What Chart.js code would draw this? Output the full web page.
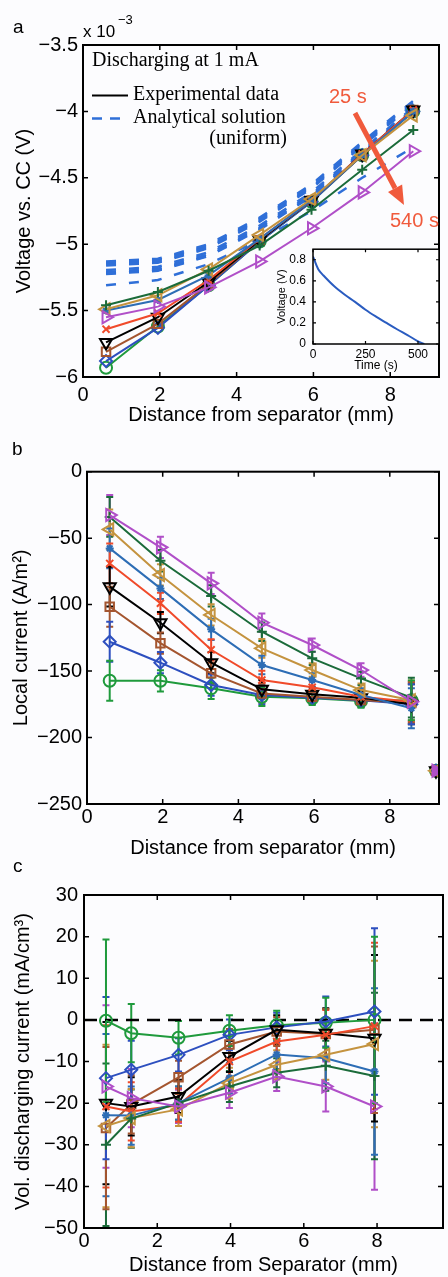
<!DOCTYPE html>
<html><head><meta charset="utf-8">
<script src="https://cdn.jsdelivr.net/npm/chart.js@4.4.1/dist/chart.umd.min.js"></script>
<style>
html,body{margin:0;padding:0;background:#fcfcfe;overflow:hidden;width:448px;height:1277px;position:relative;}
canvas{position:absolute;}
</style></head><body>
<canvas id="ca" width="448" height="430" style="left:0;top:0"></canvas>
<canvas id="ci" width="178" height="140" style="left:270px;top:235px"></canvas>
<canvas id="cb" width="448" height="430" style="left:0;top:430px"></canvas>
<canvas id="cc" width="452" height="417" style="left:0;top:860px"></canvas>
<script>
// ---------- DATA ----------
// Panel a: potential vs distance (x 10^-3 V)
const aX = [0.6, 1.95, 3.27, 4.6, 5.95, 7.27, 8.6];
const aGreen   = [-5.93, -5.62, -5.31, -4.98, -4.68, -4.33, -4.00];
const aBlueD   = [-5.88, -5.63, -5.31, -4.98, -4.68, -4.33, -4.00];
const aBrown   = [-5.81, -5.60, -5.30, -4.97, -4.67, -4.33, -3.99];
const aBlack   = [-5.74, -5.55, -5.285, -4.97, -4.67, -4.32, -3.99];
const aRed     = [-5.64, -5.52, -5.27, -4.96, -4.67, -4.32, -3.99];
const aSteel   = [-5.50, -5.42, -5.235, -4.96, -4.67, -4.33, -4.00];
const aGold    = [-5.49, -5.385, -5.19, -4.93, -4.66, -4.33, -4.03];
const aDkGreen = [-5.46, -5.36, -5.20, -5.01, -4.74, -4.44, -4.14];
const aPurple  = [-5.55, -5.47, -5.325, -5.13, -4.88, -4.61, -4.30];
const aModel1 = [-5.13, -5.11, -5.00, -4.80, -4.55, -4.23, -3.92];
const aModel2 = [-5.14, -5.12, -5.01, -4.81, -4.56, -4.24, -3.93];
const aModel3 = [-5.15, -5.13, -5.02, -4.82, -4.57, -4.25, -3.94];
const aModel4 = [-5.16, -5.14, -5.03, -4.83, -4.58, -4.26, -3.95];
const aModel5 = [-5.195, -5.17, -5.06, -4.86, -4.61, -4.29, -3.97];
const aModel6 = [-5.21, -5.185, -5.075, -4.875, -4.625, -4.30, -3.98];
const aModel7 = [-5.22, -5.195, -5.085, -4.885, -4.635, -4.31, -3.99];
const aModel8 = [-5.225, -5.20, -5.09, -4.89, -4.64, -4.315, -3.995];
const aModel9 = [-5.31, -5.27, -5.15, -4.97, -4.75, -4.50, -4.27];
const aXTicks = [0, 2, 4, 6, 8];
const aYTicks = [-6, -5.5, -5, -4.5, -4, -3.5];
// Inset: cell voltage vs time
const insetT = [0, 25, 50, 100, 150, 200, 250, 300, 350, 400, 450, 500, 530];
const insetV = [0.83, 0.71, 0.65, 0.55, 0.47, 0.40, 0.325, 0.26, 0.20, 0.14, 0.085, 0.025, 0.0];
const insetXTicks = [0, 250, 500];
const insetYTicks = [0, 0.2, 0.4, 0.6, 0.8];
// Panel b: local current (A/m2)
const bX = [0.6, 1.94, 3.28, 4.62, 5.95, 7.24, 8.57];
const bGreen   = [-157.3, -157.3, -163, -169.3, -170.5, -172.5, -172];
const bBlueD   = [-127.9, -143.7, -160.5, -168, -170, -172, -175];
const bBrown   = [-101.6, -129, -151.7, -166.8, -169.3, -171.8, -174];
const bBlack   = [-86.5, -113.6, -143.7, -163.7, -167.5, -170, -175];
const bRed     = [-69, -99, -134, -156.7, -162.2, -169.3, -173];
const bSteel   = [-57.7, -87.8, -118.6, -145.4, -156.7, -168, -178];
const bGold    = [-43.4, -77.7, -107.8, -132.9, -149.2, -164.3, -172];
const bDkGreen = [-34, -67, -93.5, -120.4, -140.4, -155.5, -170];
const bPurple  = [-32.6, -56.9, -84, -113.6, -130.4, -149.2, -173];
const bErr = [15, 8, 8, 7, 5, 5, 15];
const bOutX = [9.22];
const bOutY = [-225];
const bXTicks = [0, 2, 4, 6, 8];
const bYTicks = [-250, -200, -150, -100, -50, 0];
// Panel c: volumetric discharging current (mA/cm3)
const cX = [0.6, 1.29, 2.58, 3.97, 5.26, 6.6, 7.93];
const cGreen   = [-0.2, -3.2, -4.3, -2.6, -1.3, -0.7, 0];
const cBlueD   = [-14, -12, -8.4, -3.6, -1.8, -0.4, 2];
const cBrown   = [-26, -20.3, -13.8, -5.9, -2.8, -3.4, -2.4];
const cBlack   = [-20, -20.8, -18.4, -8.8, -2.4, -3.2, -4.4];
const cRed     = [-20.8, -22, -20.5, -10, -5.2, -3.6, -1.5];
const cSteel   = [-22.9, -23, -20, -14, -8.3, -9.2, -12.4];
const cGold    = [-25.5, -23.6, -21.5, -15.2, -10.8, -8.4, -5.8];
const cDkGreen = [-30, -23.7, -20, -16, -12.7, -11, -13.5];
const cPurple  = [-16, -18.8, -20.8, -17.5, -13.6, -16, -20.8];
const cErr = [19.5, 7, 4, 3.7, 3.5, 6, 20];
const cZeroX = [0, 9.8];
const cZeroY = [0, 0];
const cXTicks = [0, 2, 4, 6, 8];
const cYTicks = [-50, -40, -30, -20, -10, 0, 10, 20, 30];

// ---------- STYLE ----------
const SANS = "'Liberation Sans', Arial, sans-serif";
const SERIF = "'Liberation Serif', 'Times New Roman', serif";
const ST = [
  {c:'#1f9a3c', p:'circle',   r:0,   rad:6},
  {c:'#2d4fbf', p:'rectRot',  r:0,   rad:6},
  {c:'#a4552f', p:'rect',     r:0,   rad:6},
  {c:'#000000', p:'triangle', r:180, rad:7},
  {c:'#f04a2a', p:'crossRot', r:0,   rad:5},
  {c:'#2d6db5', p:'star',     r:0,   rad:4},
  {c:'#c4933f', p:'triangle', r:-90, rad:7},
  {c:'#1b6b3a', p:'cross',    r:0,   rad:5},
  {c:'#b04fc8', p:'triangle', r:90,  rad:7}
];
const T = 'rgba(0,0,0,0)';
function mk(xs, ys, st, i, extra){
  return Object.assign({
    data: xs.map((x,k)=>({x:x, y:ys[k]})),
    borderColor: st.c, backgroundColor: T, borderWidth: 2,
    pointStyle: st.p, pointRotation: st.r, pointRadius: st.rad, pointBorderWidth: 2,
    pointBorderColor: st.c, pointBackgroundColor: T, tension: 0, fill: false,
    order: 10 - i
  }, extra || {});
}
const fmt = v => String(v).replace('-', '\u2212');
function setTicks(arr){ return s => { s.ticks = arr.map(v => ({value:v})); }; }

// ---------- PLUGINS ----------
const frame = {
  id:'frame',
  afterDraw(chart, args, opts){
    const {ctx, chartArea:ca, scales:{x, y}} = chart;
    const tl = opts.tick || 5;
    ctx.save();
    ctx.strokeStyle = '#000'; ctx.lineWidth = opts.lw || 2;
    ctx.strokeRect(ca.left, ca.top, ca.right - ca.left, ca.bottom - ca.top);
    ctx.lineWidth = opts.tw || 1.5;
    ctx.beginPath();
    x.ticks.forEach(t => { const p = x.getPixelForValue(t.value);
      ctx.moveTo(p, ca.bottom); ctx.lineTo(p, ca.bottom - tl);
      ctx.moveTo(p, ca.top); ctx.lineTo(p, ca.top + tl); });
    y.ticks.forEach(t => { const p = y.getPixelForValue(t.value);
      ctx.moveTo(ca.left, p); ctx.lineTo(ca.left + tl, p);
      ctx.moveTo(ca.right, p); ctx.lineTo(ca.right - tl, p); });
    ctx.stroke();
    ctx.restore();
  }
};
const bgfill = {
  id:'bgfill',
  beforeDraw(chart, args, opts){
    if (!opts || !opts.color) return;
    const {ctx, chartArea:ca} = chart;
    ctx.save(); ctx.fillStyle = opts.color;
    ctx.fillRect(ca.left, ca.top, ca.right - ca.left, ca.bottom - ca.top); ctx.restore();
  }
};
const errorBars = {
  id:'errorBars',
  beforeDatasetsDraw(chart){
    const {ctx, chartArea:ca, scales:{x, y}} = chart;
    ctx.save();
    ctx.beginPath(); ctx.rect(ca.left, ca.top, ca.right - ca.left, ca.bottom - ca.top); ctx.clip();
    chart.data.datasets.slice().reverse().forEach(ds => {
      if (!ds.errors) return;
      ctx.strokeStyle = ds.borderColor; ctx.lineWidth = 2;
      ds.data.forEach((p, i) => {
        const e = ds.errors[i];
        const px = x.getPixelForValue(p.x);
        const y1 = y.getPixelForValue(p.y - e), y2 = y.getPixelForValue(p.y + e);
        ctx.beginPath();
        ctx.moveTo(px, y1); ctx.lineTo(px, y2);
        ctx.moveTo(px - 3.5, y1); ctx.lineTo(px + 3.5, y1);
        ctx.moveTo(px - 3.5, y2); ctx.lineTo(px + 3.5, y2);
        ctx.stroke();
      });
    });
    ctx.restore();
  }
};
const annot = {
  id:'annot',
  afterDraw(chart, args, opts){
    const ctx = chart.ctx;
    ctx.save();
    ctx.fillStyle = '#000'; ctx.textBaseline = 'alphabetic'; ctx.textAlign = 'left';
    ctx.font = '19px ' + SANS;
    ctx.fillText(opts.letter, opts.lx, opts.ly);
    if (opts.panelA) {
      ctx.font = '17px ' + SANS; ctx.fillText('x 10', 83, 37);
      ctx.font = '13px ' + SANS; ctx.fillText('\u22123', 118, 24);
      ctx.font = '20px ' + SERIF;
      ctx.fillText('Discharging at 1 mA', 92, 66);
      ctx.fillText('Experimental data', 133, 100);
      ctx.fillText('Analytical solution', 133, 123);
      ctx.textAlign = 'right'; ctx.fillText('(uniform)', 287, 144);
      ctx.textAlign = 'left';
      // legend samples
      ctx.lineWidth = 2; ctx.strokeStyle = '#000';
      ctx.beginPath(); ctx.moveTo(92, 95.5); ctx.lineTo(128, 95.5); ctx.stroke();
      ctx.strokeStyle = '#2f6fd8'; ctx.lineWidth = 2.5; ctx.setLineDash([10, 8]);
      ctx.beginPath(); ctx.moveTo(92, 118.5); ctx.lineTo(128, 118.5); ctx.stroke();
      ctx.setLineDash([]);
      // red arrow
      const red = '#f05a3c';
      ctx.fillStyle = red; ctx.font = '20px ' + SANS;
      ctx.fillText('25 s', 329, 103);
      ctx.fillText('540 s', 390, 227);
      ctx.strokeStyle = red; ctx.lineWidth = 5;
      const x0 = 355, y0 = 113, x1 = 404, y1 = 205;
      const ang = Math.atan2(y1 - y0, x1 - x0);
      const hl = 19, hw = 8;
      const bx = x1 - hl * Math.cos(ang), by = y1 - hl * Math.sin(ang);
      ctx.beginPath(); ctx.moveTo(x0, y0); ctx.lineTo(bx, by); ctx.stroke();
      ctx.beginPath(); ctx.moveTo(x1, y1);
      ctx.lineTo(bx + hw * Math.sin(ang), by - hw * Math.cos(ang));
      ctx.lineTo(bx - hw * Math.sin(ang), by + hw * Math.cos(ang));
      ctx.closePath(); ctx.fill();
    }
    ctx.restore();
  }
};

function axisX(min, max, ticksArr, h, tickPad, title, titlePadB, fs){
  return {
    type:'linear', min:min, max:max,
    grid:{display:false, drawTicks:false}, border:{display:false},
    afterBuildTicks: setTicks(ticksArr),
    afterFit: s => { s.height = h; },
    ticks:{padding:tickPad, color:'#000', font:{family:SANS, size:fs||20}, maxRotation:0, autoSkip:false, callback: v => fmt(v)},
    title:{display:true, text:title, color:'#000', font:{family:SANS, size:fs||20, lineHeight:1.2}, padding:{top:0, bottom:titlePadB}}
  };
}
function axisY(min, max, ticksArr, w, tickPad, title, titlePadT, fs, tfs){
  return {
    type:'linear', min:min, max:max,
    grid:{display:false, drawTicks:false}, border:{display:false},
    afterBuildTicks: setTicks(ticksArr),
    afterFit: s => { s.width = w; },
    ticks:{padding:tickPad, color:'#000', font:{family:SANS, size:fs||20}, autoSkip:false, callback: v => fmt(v)},
    title:{display:true, text:title, color:'#000', font:{family:SANS, size:tfs||fs||20, lineHeight:1.2}, padding:{top:titlePadT, bottom:0}}
  };
}
const baseOpts = {responsive:false, animation:false, devicePixelRatio:1, events:[]};

// ---------- PANEL A ----------
const aSeries = [aGreen, aBlueD, aBrown, aBlack, aRed, aSteel, aGold, aDkGreen, aPurple];
const aModels = [aModel1, aModel2, aModel3, aModel4, aModel5, aModel6, aModel7, aModel8, aModel9];
const aDatasets = [];
aSeries.forEach((s, i) => aDatasets.push(mk(aX, s, ST[i], i)));
aModels.forEach(m => aDatasets.push({
  data: aX.map((x,k)=>({x:x, y:m[k]})), borderColor:'#2f6fd8', borderWidth:2.5,
  borderDash:[10, 13], pointRadius:0, tension:0, fill:false, order:30
}));
new Chart(document.getElementById('ca'), {
  type:'line', data:{datasets:aDatasets},
  options:Object.assign({}, baseOpts, {
    layout:{padding:{top:45, right:1, left:0, bottom:0}},
    plugins:{legend:{display:false}, tooltip:{enabled:false}, frame:{}, annot:{letter:'a', lx:13, ly:33, panelA:true}},
    scales:{
      x: axisX(0, 9.27, aXTicks, 53, 6, 'Distance from separator (mm)', 3),
      y: axisY(-6, -3.5, aYTicks, 83, 5, 'Voltage vs. CC (V)', 12)
    }
  }),
  plugins:[frame, annot]
});

// ---------- INSET ----------
new Chart(document.getElementById('ci'), {
  type:'line',
  data:{datasets:[{data: insetT.map((t,k)=>({x:t, y:insetV[k]})), borderColor:'#2a5cc0', borderWidth:2, pointRadius:0, tension:0.35, fill:false}]},
  options:Object.assign({}, baseOpts, {
    layout:{padding:{top:8, right:9, left:0, bottom:0}},
    plugins:{legend:{display:false}, tooltip:{enabled:false}, frame:{tick:3, lw:1.5, tw:1.2}, bgfill:{color:'#ffffff'}},
    scales:{
      x: axisX(0, 600, insetXTicks, 31, 3, 'Time (s)', 2, 12),
      y: axisY(0, 0.9, insetYTicks, 43, 7, 'Voltage (V)', 5, 12, 11)
    }
  }),
  plugins:[bgfill, frame]
});

// ---------- PANEL B ----------
const bSeries = [bGreen, bBlueD, bBrown, bBlack, bRed, bSteel, bGold, bDkGreen, bPurple];
const bDatasets = [];
bSeries.forEach((s, i) => bDatasets.push(mk(bX, s, ST[i], i, {errors: bErr})));
bSeries.forEach((s, i) => bDatasets.push(mk(bOutX, bOutY, ST[i], i, {showLine:false, pointBackgroundColor: ST[i].c})));
new Chart(document.getElementById('cb'), {
  type:'line', data:{datasets:bDatasets},
  options:Object.assign({}, baseOpts, {
    layout:{padding:{top:41.7, right:2, left:0, bottom:0}},
    plugins:{legend:{display:false}, tooltip:{enabled:false}, frame:{}, annot:{letter:'b', lx:12, ly:25}},
    scales:{
      x: axisX(0, 9.3, bXTicks, 56, 1, 'Distance from separator (mm)', 0),
      y: axisY(-250, 0, bYTicks, 87, 5, 'Local current (A/m\u00B2)', 9)
    }
  }),
  plugins:[errorBars, frame, annot]
});

// ---------- PANEL C ----------
const cSeries = [cGreen, cBlueD, cBrown, cBlack, cRed, cSteel, cGold, cDkGreen, cPurple];
const cDatasets = [];
cSeries.forEach((s, i) => cDatasets.push(mk(cX, s, ST[i], i, {errors: cErr})));
cDatasets.push({data: cZeroX.map((x,k)=>({x:x, y:cZeroY[k]})), borderColor:'#000', borderWidth:2.5, borderDash:[13, 8], pointRadius:0, fill:false, order:40});
new Chart(document.getElementById('cc'), {
  type:'line', data:{datasets:cDatasets},
  options:Object.assign({}, baseOpts, {
    layout:{padding:{top:35, right:1.5, left:0, bottom:0}},
    plugins:{legend:{display:false}, tooltip:{enabled:false}, frame:{}, annot:{letter:'c', lx:13, ly:11.7}},
    scales:{
      x: axisX(0, 9.8, cXTicks, 49, 1.5, 'Distance from Separator (mm)', 0),
      y: axisY(-50, 30, cYTicks, 84, 6, 'Vol. discharging current (mA/cm\u00B3)', 11)
    }
  }),
  plugins:[errorBars, frame, annot]
});
</script>
</body></html>
